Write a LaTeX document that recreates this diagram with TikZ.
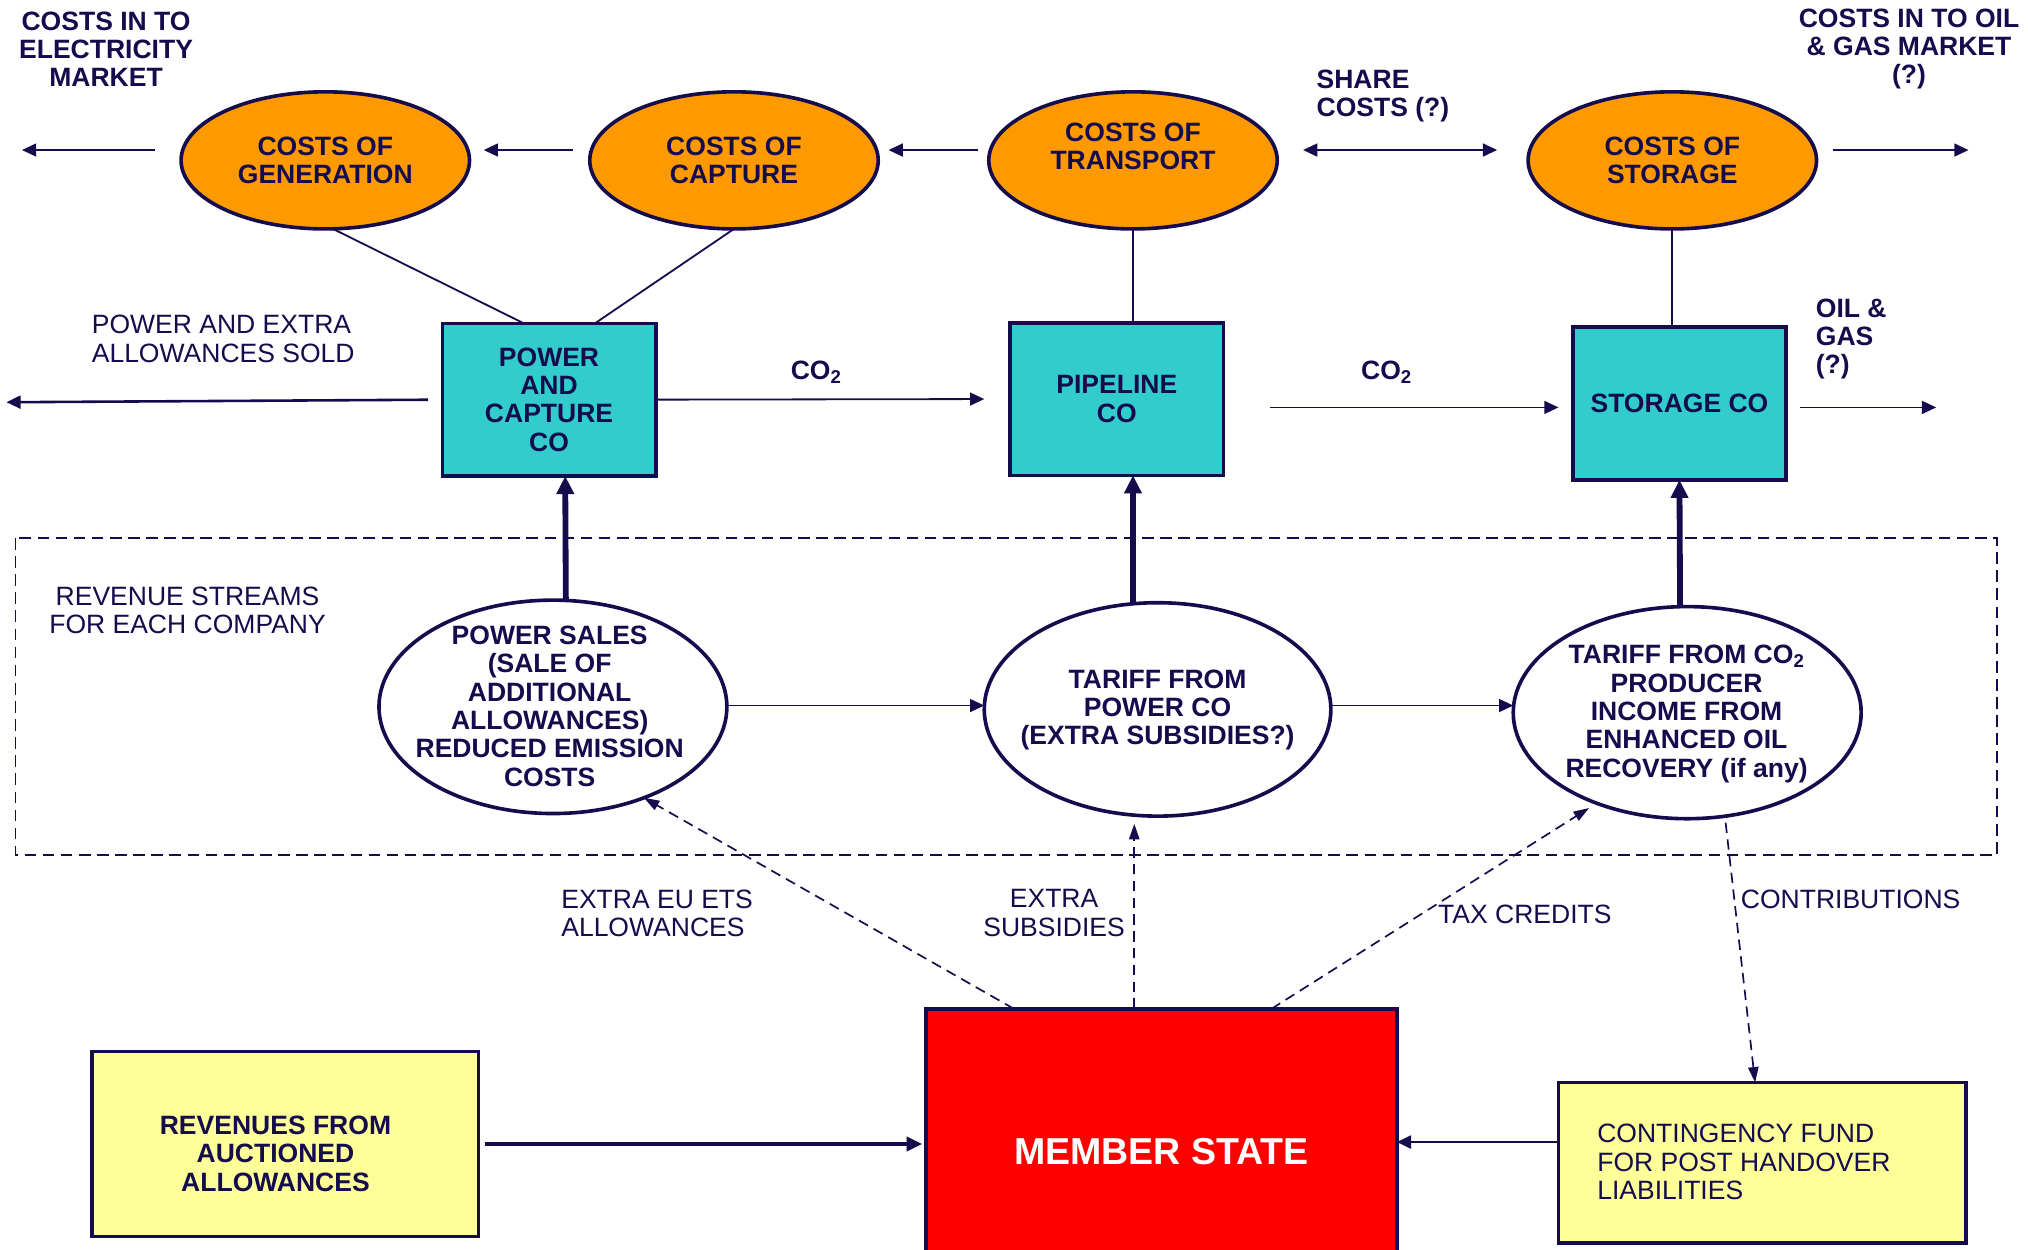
\documentclass[tikz,border=0pt]{standalone}
\usepackage{fontspec}
\setmainfont{Liberation Sans}
\usetikzlibrary{arrows.meta,shapes.geometric,calc}
\definecolor{navy}{HTML}{140C4C}
\definecolor{orangef}{HTML}{FF9900}
\definecolor{tealf}{HTML}{33CCCC}
\definecolor{yellowf}{HTML}{FFFF99}
\definecolor{redf}{HTML}{FF0000}
\begin{document}
\begin{tikzpicture}[x=1pt,y=-1pt,
  every node/.style={text=navy, inner sep=0pt, outer sep=0pt},
  bigf/.style={font=\fontsize{20.5}{21.9}\selectfont\bfseries},
  regf/.style={font=\fontsize{20.5}{21.9}\selectfont},
  costell/.style={ellipse, draw=navy, line width=2.8pt, fill=orangef, minimum width=223pt, minimum height=106pt, bigf, align=center},
  cobox/.style={rectangle, draw=navy, line width=2.8pt, fill=tealf, minimum width=165pt, minimum height=118pt, bigf, align=center},
  revell/.style={ellipse, draw=navy, line width=2.8pt, fill=white, minimum height=165pt},
  ybox/.style={rectangle, draw=navy, line width=2.6pt, fill=yellowf},
  conn/.style={draw=navy, line width=1.4pt},
  arr/.style={conn, -{Triangle[length=11pt,width=10pt]}},
  dblarr/.style={conn, {Triangle[length=11pt,width=10pt]}-{Triangle[length=11pt,width=10pt]}},
  arrw/.style={arr, line width=2pt},
  arrthick/.style={draw=navy, line width=2.6pt, -{Triangle[length=12pt,width=11pt]}},
  bigarr/.style={draw=navy, line width=4.5pt, -{Triangle[length=14pt,width=13pt]}},
  darr/.style={draw=navy, line width=1.3pt, dash pattern=on 8pt off 5pt, -{Triangle[length=12pt,width=8pt]}},
  dashbox/.style={draw=navy, line width=1.3pt, dash pattern=on 9pt off 5pt}
]
\clip (0,0) rectangle (1568,966);
\fill[white] (0,0) rectangle (1568,966);

% top titles
\node[bigf, align=center] (tl) at (82,38) {COSTS IN TO\\ELECTRICITY\\MARKET};
\node[bigf, align=center] (tr) at (1476,38) {COSTS IN TO OIL\\\& GAS MARKET\\(?)};

% cost ellipses
\node[costell] (e1) at (251.5,124) {COSTS OF\\GENERATION};
\node[costell] (e2) at (567.5,124) {COSTS OF\\CAPTURE};
\node[costell] (e3) at (876,124) {};
\node[bigf, align=center] (e3t) at (876,113) {COSTS OF\\TRANSPORT};
\node[costell] (e4) at (1293,124) {COSTS OF\\STORAGE};

% company boxes
\node[cobox] (b1) at (424.5,309) {POWER\\AND\\CAPTURE\\CO};
\node[cobox] (b2) at (863.5,308.5) {PIPELINE\\CO};
\node[cobox] (b3) at (1298.5,312) {STORAGE CO};

% revenue area
\draw[dashbox] (12,416) rectangle (1544,661);
\node[regf, align=center] (lrev) at (145,472) {REVENUE STREAMS\\FOR EACH COMPANY};

\node[revell, minimum width=269pt] (e5) at (427.5,546.5) {};
\node[bigf, align=center] (e5t) at (425,546) {POWER SALES\\(SALE OF\\ADDITIONAL\\ALLOWANCES)\\REDUCED EMISSION\\COSTS};
\node[revell, minimum width=268pt] (e6) at (895,548.5) {};
\node[bigf, align=center] (e6t) at (895,549) {TARIFF FROM\\POWER CO\\(EXTRA SUBSIDIES?)};
\node[revell, minimum width=269pt, minimum height=164pt] (e7) at (1304.5,551) {};
\node[bigf, align=center] (e7t) at (1304,552) {TARIFF FROM CO\textsubscript{2}\\PRODUCER\\INCOME FROM\\ENHANCED OIL\\RECOVERY (if any)};

% bottom boxes
\node[rectangle, draw=navy, line width=3pt, fill=redf, minimum width=364pt, minimum height=220pt, text=white, font=\fontsize{29}{31}\selectfont\bfseries] (ms) at (898,890) {MEMBER STATE};
\node[ybox, minimum width=299pt, minimum height=143pt] (aux) at (220.5,884.5) {};
\node[bigf, align=center] (auxt) at (213,892) {REVENUES FROM\\AUCTIONED\\ALLOWANCES};
\node[ybox, minimum width=315pt, minimum height=124pt] (fund) at (1362.5,899) {};
\node[regf, align=left, anchor=west] (fundt) at (1235,898.5) {CONTINGENCY FUND\\FOR POST HANDOVER\\LIABILITIES};

% labels
\node[regf, align=left, anchor=west] (lpow) at (71,262) {POWER AND EXTRA\\ALLOWANCES SOLD};
\node[bigf] (lco1) at (631,288) {CO\textsubscript{2}};
\node[bigf] (lco2) at (1072,288) {CO\textsubscript{2}};
\node[bigf, align=left, anchor=west] (lshare) at (1018,74) {SHARE\\COSTS (?)};
\node[bigf, align=left, anchor=west] (loil) at (1404,262) {OIL \&\\GAS\\(?)};
\node[regf, align=left, anchor=west] (lets) at (434,706) {EXTRA EU ETS\\ALLOWANCES};
\node[regf, align=center] (lsub) at (815,706) {EXTRA\\SUBSIDIES};
\node[regf, anchor=west] (ltax) at (1112,707) {TAX CREDITS};
\node[regf, anchor=west] (lcon) at (1346,695) {CONTRIBUTIONS};

% top row arrows
\coordinate (c1) at (17,116);
\draw[arr, shorten <=20pt] ([yshift=8pt]e1.west) -- (c1);
\draw[arr, shorten <=13pt, shorten >=11pt] ([yshift=8pt]e2.west) -- ([yshift=8pt]e1.east);
\draw[arr, shorten <=8pt, shorten >=8pt] ([yshift=8pt]e3.west) -- ([yshift=8pt]e2.east);
\draw[dblarr, shorten <=20pt, shorten >=24pt] ([yshift=8pt]e3.east) -- ([yshift=8pt]e4.west);
\coordinate (c2) at (1522,116);
\draw[arr, shorten <=13pt] ([yshift=8pt]e4.east) -- (c2);

% ellipse to box lines
\draw[conn] ([xshift=6pt]e1.south) -- ([xshift=-19.5pt]b1.north);
\draw[conn] (e2.south) -- ([xshift=35.5pt]b1.north);
\draw[conn] (e3.south) -- (e3.south |- b2.north);
\draw[conn] (e4.south) -- (e4.south |- b3.north);

% middle row arrows
\coordinate (c3) at (5,311);
\draw[arrw, shorten <=11pt] (b1.west) -- (c3);
\draw[arr, shorten >=20pt] (b1.east) -- (b2.west);
\coordinate (c5) at ($(b3.west)+(0,3)$);
\draw[arr, shorten <=36pt, shorten >=11pt] (c5 -| b2.east) -- (c5);
\coordinate (c4) at (1497,315);
\draw[arr, shorten <=11pt] (c4 -| b3.east) -- (c4);

% revenue to company
\draw[bigarr] ([xshift=10pt]e5.north) -- ([xshift=12.5pt]b1.south);
\draw[bigarr] ([xshift=-19pt]e6.north) -- ([xshift=12.5pt]b2.south);
\draw[bigarr] ([xshift=-5.5pt]e7.north) -- (b3.south);

\coordinate (m1) at ($(e5.east)+(0,-1)$);
\draw[arr] (m1) -- (m1 -| e6.west);
\coordinate (m2) at ($(e6.east)+(0,-3)$);
\draw[arr] (m2) -- (m2 -| e7.west);

% dashed flows
\draw[darr] ([xshift=-114pt]ms.north) -- (e5.-45);
\draw[darr] ([xshift=-21pt]ms.north) -- ([xshift=-18pt,yshift=-6pt]e6.south);
\draw[darr, shorten >=7pt] ([xshift=85pt]ms.north) -- (e7.-135);
\draw[darr, shorten <=5pt] (e7.-70) -- ([xshift=-5.5pt]fund.north);

% bottom arrows
\draw[arrthick, shorten <=5pt, shorten >=3pt] (aux.east) -- (aux.east -| ms.west);
\coordinate (f1) at ($(fund.west)+(0,-16)$);
\draw[arrw] (f1) -- (f1 -| ms.east);
\end{tikzpicture}
\end{document}
